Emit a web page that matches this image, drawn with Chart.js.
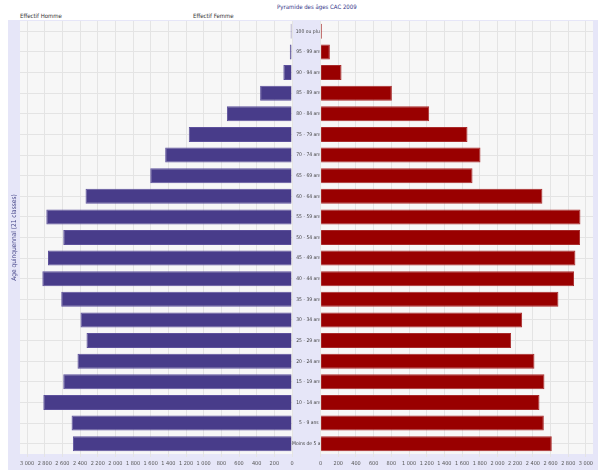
<!DOCTYPE html>
<html>
<head>
<meta charset="utf-8">
<script src="https://cdn.jsdelivr.net/npm/chart.js@4"></script>
<style>
  body { margin: 0; background: #fff; width: 601px; height: 470px; overflow: hidden; font-family: "Liberation Sans Narrow", "DejaVu Sans Condensed", sans-serif; }
  #panel { position: absolute; left: 8px; top: 20px; width: 590px; height: 450px; background: #e6e6f8; }
  canvas { position: absolute; top: 0; }
  .txt { position: absolute; font-size: 6px; color: #333; white-space: nowrap; }
</style>
</head>
<body>
<div id="panel"></div>
<div class="txt" style="left:277px;top:3px;color:#333388">Pyramide des âges CAC 2009</div>
<div class="txt" style="left:20px;top:12px">Effectif Homme</div>
<div class="txt" style="left:193px;top:12px">Effectif Femme</div>
<canvas id="hommes" width="321" height="470" style="left:0;width:321px;height:470px"></canvas>
<canvas id="femmes" width="285" height="470" style="left:316px;width:285px;height:470px"></canvas>
<script>
const ages = ["100 ou plus", "95 - 99 ans", "90 - 94 ans", "85 - 89 ans", "80 - 84 ans",
  "75 - 79 ans", "70 - 74 ans", "65 - 69 ans", "60 - 64 ans", "55 - 59 ans", "50 - 54 ans",
  "45 - 49 ans", "40 - 44 ans", "35 - 39 ans", "30 - 34 ans", "25 - 29 ans", "20 - 24 ans",
  "15 - 19 ans", "10 - 14 ans", "5 - 9 ans", "Moins de 5 ans"]
const hommes = [15, 25, 98, 361, 737, 1169, 1436, 1605, 2338, 2782, 2590,
  2763, 2827, 2613, 2395, 2327, 2429, 2590, 2816, 2496, 2481]
const femmes = [15, 105, 237, 806, 1228, 1661, 1808, 1718, 2508, 2938, 2934,
  2881, 2866, 2689, 2279, 2154, 2418, 2531, 2475, 2524, 2614]
const axisMax = 3080

const font = { family: "'Liberation Sans Narrow', 'DejaVu Sans Condensed', sans-serif", size: 5.5 }

function fmt(v) {
  if (v < 1000) return String(v)
  return Math.floor(v / 1000) + " " + String(v % 1000).padStart(3, "0")
}

// fill the plot area in light grey
const plotBg = {
  id: "plotBg",
  beforeDraw(chart) {
    const { ctx, chartArea: a } = chart
    ctx.save()
    ctx.fillStyle = "#f7f7f7"
    ctx.fillRect(a.left, a.top, a.right - a.left, a.bottom - a.top)
    ctx.restore()
  }
}

function xScale(reverse) {
  return {
    min: 0,
    max: axisMax,
    reverse,
    ticks: { stepSize: 200, includeBounds: false, font, color: "#555", callback: fmt, maxRotation: 0, autoSkip: false, padding: 3 },
    grid: { color: "#e4e4e4", drawTicks: true, tickLength: 3 },
    border: { display: false },
    afterFit(s) { s.height = 16 }
  }
}

new Chart(document.getElementById("hommes"), {
  type: "bar",
  data: {
    labels: ages,
    datasets: [{
      data: hommes,
      backgroundColor: "#483c8a",
      borderColor: "#5d519c",
      borderWidth: 1,
      categoryPercentage: 0.8,
      barPercentage: 0.91
    }]
  },
  options: {
    indexAxis: "y",
    responsive: false,
    animation: false,
    layout: { padding: { top: 21 } },
    plugins: { legend: { display: false }, tooltip: { enabled: false } },
    scales: {
      x: xScale(true),
      y: {
        position: "right",
        ticks: { font: { ...font, size: 5 }, color: "#444", crossAlign: "center", padding: 0, autoSkip: false },
        grid: { color: "#e4e4e4", offset: false, drawTicks: false },
        border: { display: false },
        afterFit(s) { s.width = 29 }
      },
      y2: {
        type: "category",
        labels: ages,
        position: "left",
        ticks: { display: false },
        grid: { display: false },
        border: { display: false },
        title: { display: true, text: "Age quinquennal (21 classes)", font: { ...font, size: 6.5 }, color: "#444488", padding: { top: 10, bottom: 0 } },
        afterFit(s) { s.width = 20 }
      }
    }
  },
  plugins: [plotBg]
})

new Chart(document.getElementById("femmes"), {
  type: "bar",
  data: {
    labels: ages,
    datasets: [{
      data: femmes,
      backgroundColor: "#990000",
      borderColor: "#a82a2a",
      borderWidth: 1,
      categoryPercentage: 0.8,
      barPercentage: 0.91
    }]
  },
  options: {
    indexAxis: "y",
    responsive: false,
    animation: false,
    layout: { padding: { top: 21, right: 8 } },
    plugins: { legend: { display: false }, tooltip: { enabled: false } },
    scales: {
      x: xScale(false),
      y: {
        ticks: { display: false },
        grid: { color: "#e4e4e4", offset: false, drawTicks: false },
        border: { display: false },
        afterFit(s) { s.width = 0 }
      }
    }
  },
  plugins: [plotBg]
})
</script>
</body>
</html>
